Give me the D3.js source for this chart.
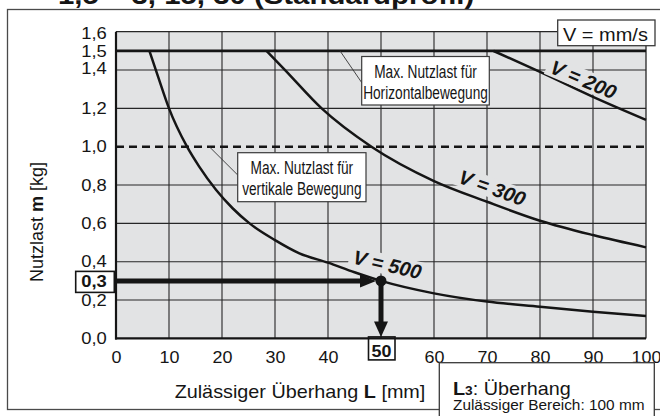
<!DOCTYPE html>
<html><head><meta charset="utf-8">
<script src="https://cdn.jsdelivr.net/npm/d3@7"></script>
<style>
body{margin:0;background:#fff}
svg{display:block}
text{font-family:"Liberation Sans",Arial,Helvetica,sans-serif;fill:#151515}
</style>
</head><body>
<svg id="c" width="660" height="416"></svg>
<script>
// ---------- data ----------
const titleText = "1,5 – 3, 15, 30 (Standardprofil)";
const xTicks = [0,10,20,30,40,50,60,70,80,90,100];
const yTicks = [0,0.2,0.3,0.4,0.6,0.8,1.0,1.2,1.4,1.5,1.6];
const xGrid = [10,20,30,40,50,60,70,80,90];
const yGrid = [0.2,0.4,0.6,0.8,1.2,1.4];
const horizontalLimit = 1.5;
const verticalLimit = 1.0;
const speedNames = ["V = 200","V = 300","V = 500"];
const v200L = [71.2,80,90,100];
const v200M = [1.5,1.39,1.26,1.14];
const v300L = [28.4,31.9,38.8,48.2,60,70,80,90,100];
const v300M = [1.5,1.4,1.2,1.0,0.821,0.713,0.614,0.539,0.475];
const v500L = [6.3,8,10,13.4,15.7,18.9,22,25.2,30,34.6,40,45,50,60,70,80,90,100];
const v500M = [1.5,1.36,1.2,1.0,0.896,0.774,0.679,0.60,0.513,0.444,0.395,0.345,0.30,0.235,0.192,0.165,0.139,0.117];
const exampleL = 50;
const exampleM = 0.3;
const unitText = "V = mm/s";
const noteHoriz = ["Max. Nutzlast für","Horizontalbewegung"];
const noteVert = ["Max. Nutzlast für","vertikale Bewegung"];
const xTitle = ["Zulässiger Überhang ","L"," [mm]"];
const yTitle = ["Nutzlast ","m"," [kg]"];
const boxLine1 = ["L","3",": Überhang"];
const boxLine2 = "Zulässiger Bereich: 100 mm";

// ---------- layout (positions / styles) ----------
const labelPlace = [ {L:88.2, m:1.35, a:23}, {L:71.0, m:0.785, a:20}, {L:51.2, m:0.385, a:13} ];
const BG = "#e2e3e4", INK = "#151515", GRID = "#262626";

const svg = d3.select("#c");
const x = d3.scaleLinear().domain([0,100]).range([116,646]);
const y = d3.scaleLinear().domain([0,1.6]).range([338.4,31.7]);
const fmt = d => d3.format(".1f")(d).replace(".", ",");

svg.append("rect").attr("width",660).attr("height",416).attr("fill","#fff");

// title (cut off at top)
svg.append("text").attr("transform","translate(58,3.5) scale(1.13,1)")
  .style("font-size","26px").style("font-weight","bold").text(titleText);

// outer frame
svg.append("rect").attr("x",7.5).attr("y",9.5).attr("width",720).attr("height",400)
  .attr("fill","none").attr("stroke","#4a4a4a").attr("stroke-width",1.3);

// plot background
svg.append("rect").attr("x",x(0)).attr("y",y(1.6))
  .attr("width",x(100)-x(0)).attr("height",y(0)-y(1.6)).attr("fill",BG);

// grid
const grid = svg.append("g");
grid.selectAll("line.v").data(xGrid).join("line").attr("class","v")
  .attr("x1",d=>x(d)).attr("x2",d=>x(d)).attr("y1",y(0)).attr("y2",y(1.6))
  .attr("stroke",GRID).attr("stroke-width",1.1);
grid.selectAll("line.h").data(yGrid).join("line").attr("class","h")
  .attr("x1",x(0)).attr("x2",x(100)).attr("y1",d=>y(d)).attr("y2",d=>y(d))
  .attr("stroke",GRID).attr("stroke-width",1.1);
grid.append("line").attr("x1",x(0)).attr("x2",x(100)).attr("y1",y(1.6)).attr("y2",y(1.6))
  .attr("stroke",GRID).attr("stroke-width",1.3);
grid.append("line").attr("x1",x(100)).attr("x2",x(100)).attr("y1",y(0)).attr("y2",y(1.6))
  .attr("stroke",GRID).attr("stroke-width",1.3);

// speed labels (background masks first)
const lblLayer = svg.append("g");
const lblGroups = speedNames.map((name,i) => {
  const p = labelPlace[i];
  const gg = lblLayer.append("g").attr("transform",`translate(${x(p.L)},${y(p.m)}) rotate(${p.a})`);
  const t = gg.append("text").attr("text-anchor","middle").attr("dominant-baseline","central")
    .style("font-size","20px").style("font-weight","bold").style("font-style","italic").text(name);
  const bb = t.node().getBBox();
  gg.insert("rect","text").attr("x",bb.x-4).attr("y",bb.y+1).attr("width",bb.width+8).attr("height",bb.height-2)
    .attr("fill",BG);
  return gg;
});

// limit lines
svg.append("line").attr("x1",x(0)).attr("x2",x(100)).attr("y1",y(horizontalLimit)).attr("y2",y(horizontalLimit))
  .attr("stroke",INK).attr("stroke-width",2.6);
svg.append("line").attr("x1",x(0)).attr("x2",x(100)).attr("y1",y(verticalLimit)).attr("y2",y(verticalLimit))
  .attr("stroke",INK).attr("stroke-width",2.5).attr("stroke-dasharray","8,5");

// curves
const line = d3.line().x(d=>x(d[0])).y(d=>y(d[1])).curve(d3.curveMonotoneX);
[[v200L,v200M],[v300L,v300M],[v500L,v500M]].forEach(([L,M]) => {
  svg.append("path").attr("d", line(L.map((l,i)=>[l,M[i]])))
    .attr("fill","none").attr("stroke",INK).attr("stroke-width",2.5);
});
// bring label texts to top
lblGroups.forEach(gg => svg.node().appendChild(gg.node()));

// axes lines
svg.append("line").attr("x1",x(0)).attr("x2",x(0)).attr("y1",y(0)+1).attr("y2",y(1.6))
  .attr("stroke",INK).attr("stroke-width",2.2);
svg.append("line").attr("x1",x(0)-1).attr("x2",x(100)).attr("y1",y(0)).attr("y2",y(0))
  .attr("stroke",INK).attr("stroke-width",2.2);

// y axis
const ya = svg.append("g").attr("transform",`translate(${x(0)},0)`)
  .call(d3.axisLeft(y).tickValues(yTicks).tickSize(0).tickPadding(8).tickFormat(fmt));
ya.select(".domain").remove();
ya.selectAll("text").attr("fill",INK).style("font-size","16px")
  .attr("transform","scale(1.15,1)")
  .attr("y", d => d===1.6 ? 2 : (d===1.4 ? -2 : 0))
  .style("font-weight", d => d===exampleM ? "bold" : "normal");
svg.append("rect").attr("x",75.7).attr("y",y(exampleM)-9.5).attr("width",38.6).attr("height",21)
  .attr("fill","none").attr("stroke",INK).attr("stroke-width",1.6);

// x axis
const xa = svg.append("g").attr("transform",`translate(0,${y(0)})`)
  .call(d3.axisBottom(x).tickValues(xTicks).tickSize(0).tickPadding(13).tickFormat(d3.format("d")));
xa.select(".domain").remove();
xa.selectAll("text").attr("fill",INK).style("font-size","16px")
  .attr("transform","scale(1.12,1)")
  .attr("y", d => d===exampleL ? 7 : 13)
  .style("font-weight", d => d===exampleL ? "bold" : "normal");
svg.append("rect").attr("x",x(exampleL)-12.5).attr("y",y(0)-1.5).attr("width",26.5).attr("height",23)
  .attr("fill","none").attr("stroke",INK).attr("stroke-width",1.6);

// axis titles
const xt = svg.append("text").attr("transform","translate(300,398) scale(1.1,1)")
  .attr("text-anchor","middle").style("font-size","18px");
xt.selectAll("tspan").data(xTitle).join("tspan").style("font-weight",(d,i)=>i===1?"bold":"normal").text(d=>d);
const yt = svg.append("text").attr("transform","translate(42.5,222) rotate(-90)")
  .attr("text-anchor","middle").style("font-size","18px");
yt.selectAll("tspan").data(yTitle).join("tspan").style("font-weight",(d,i)=>i===1?"bold":"normal").text(d=>d);

// annotation boxes
function note(lines, bx, by, bw, bh, base1, base2, leader) {
  svg.append("line").attr("x1",leader[0]).attr("y1",leader[1]).attr("x2",leader[2]).attr("y2",leader[3])
    .attr("stroke","#333").attr("stroke-width",0.9);
  svg.append("rect").attr("x",bx).attr("y",by).attr("width",bw).attr("height",bh)
    .attr("fill","#fff").attr("stroke","#3a3a3a").attr("stroke-width",1.2);
  [base1,base2].forEach((b,i)=>{
    svg.append("text").attr("transform",`translate(${bx+bw/2},${b}) scale(0.74,1)`)
      .attr("text-anchor","middle").style("font-size","18.5px").text(lines[i]);
  });
}
note(noteHoriz, 361.7, 56.5, 127.6, 48.5, 78, 99, [340, y(horizontalLimit), 362, 83]);
note(noteVert, 237.7, 152.7, 128.3, 49, 173.5, 194.5, [209.3, y(verticalLimit), 237.7, 175]);

// unit box
svg.append("rect").attr("x",557.7).attr("y",20).attr("width",97.3).attr("height",25.7)
  .attr("fill","#fff").attr("stroke","#3a3a3a").attr("stroke-width",1.3);
svg.append("text").attr("transform","translate(563,41) scale(1.08,1)").style("font-size","18.5px").text(unitText);

// bottom-right box
svg.append("rect").attr("x",439.3).attr("y",362.7).attr("width",215).attr("height",70)
  .attr("fill","#fff").attr("stroke","#3a3a3a").attr("stroke-width",1.3);
const b1 = svg.append("text").attr("transform","translate(453,394.5) scale(1.1,1)").style("font-size","18px");
b1.append("tspan").style("font-weight","bold").text(boxLine1[0]);
b1.append("tspan").style("font-weight","bold").style("font-size","12.5px").text(boxLine1[1]);
b1.append("tspan").text(boxLine1[2]);
svg.append("text").attr("transform","translate(453,410) scale(1.1,1)").style("font-size","14px").text(boxLine2);

// example arrows
const ax = x(exampleL), ay = y(exampleM);
svg.append("line").attr("x1",x(0)).attr("x2",ax-19).attr("y1",ay).attr("y2",ay)
  .attr("stroke",INK).attr("stroke-width",5);
svg.append("path").attr("d",`M${ax-5},${ay} L${ax-21},${ay-6.5} L${ax-21},${ay+6.5} Z`).attr("fill",INK);
svg.append("line").attr("x1",ax).attr("x2",ax).attr("y1",ay).attr("y2",y(0)-15)
  .attr("stroke",INK).attr("stroke-width",5);
svg.append("path").attr("d",`M${ax},${y(0)-1.5} L${ax-7},${y(0)-17} L${ax+7},${y(0)-17} Z`).attr("fill",INK);
svg.append("circle").attr("cx",ax).attr("cy",ay).attr("r",5.5).attr("fill",INK);
</script>
</body></html>
